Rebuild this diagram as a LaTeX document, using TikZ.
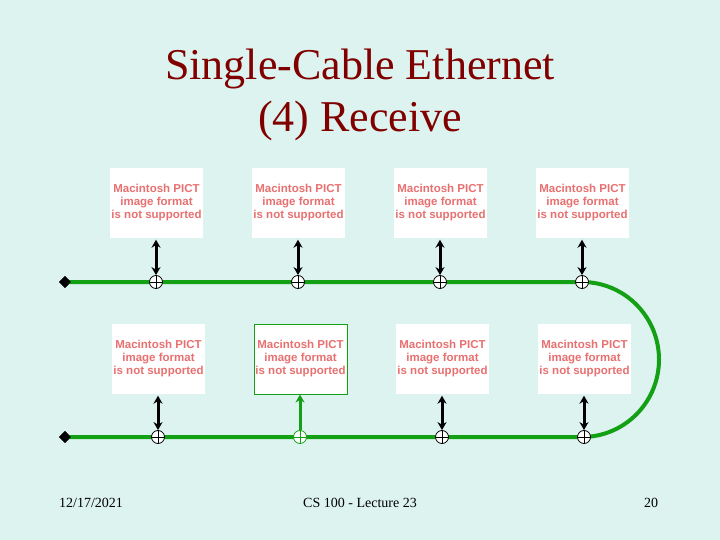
\documentclass[tikz,border=0pt]{standalone}
\usepackage{fontspec}
\setmainfont{Liberation Serif}
\newfontfamily\pictfont{Liberation Sans}
\usetikzlibrary{arrows.meta,shapes.geometric}
\definecolor{bgc}{RGB}{221,243,239}
\definecolor{titlec}{RGB}{128,0,0}
\definecolor{pictc}{RGB}{232,112,112}
\definecolor{cablec}{RGB}{20,160,20}
\tikzset{
  pict/.style={draw=none,fill=white,minimum width=93pt,minimum height=70pt,inner sep=0pt,
    font=\pictfont\bfseries\fontsize{11.5}{13}\selectfont,text=pictc,align=center},
  tap/.style={circle,draw=black,fill=white,line width=0.8pt,minimum size=13pt,inner sep=0pt,
    path picture={\draw[line width=0.8pt] (path picture bounding box.north) -- (path picture bounding box.south)
      (path picture bounding box.west) -- (path picture bounding box.east);}},
  gtap/.style={tap,draw=cablec,path picture={\draw[cablec,line width=0.8pt] (path picture bounding box.north) -- (path picture bounding box.south)
      (path picture bounding box.west) -- (path picture bounding box.east);}},
  term/.style={diamond,fill=black,minimum size=12pt,inner sep=0pt},
  cable/.style={cablec,line width=4pt},
  arr/.style={black,line width=3pt,{Stealth[length=8pt,width=9pt]}-{Stealth[length=8pt,width=9pt]}},
  garr/.style={cablec,line width=3pt,-{Stealth[length=8pt,width=9pt]}},
  foot/.style={font=\fontsize{14}{16}\selectfont,text=black}
}
\begin{document}
\begin{tikzpicture}[x=1pt,y=-1pt]
\fill[bgc] (0,0) rectangle (720,540);
\useasboundingbox (0,0) rectangle (720,540);
\node[text=titlec,font=\fontsize{44}{52}\selectfont,align=center] (title) at (360,95) {Single-Cable Ethernet\\(4) Receive};
% pictures
\node[pict] (t1) at (156.5,203) {Macintosh PICT\\image format\\is not supported};
\node[pict] (t2) at (298.5,203) {Macintosh PICT\\image format\\is not supported};
\node[pict] (t3) at (440.5,203) {Macintosh PICT\\image format\\is not supported};
\node[pict] (t4) at (582.5,203) {Macintosh PICT\\image format\\is not supported};
\node[pict] (b1) at (158.5,359) {Macintosh PICT\\image format\\is not supported};
\node[pict,draw=cablec,line width=1pt] (b2) at (300.5,359) {Macintosh PICT\\image format\\is not supported};
\node[pict] (b3) at (442.5,359) {Macintosh PICT\\image format\\is not supported};
\node[pict] (b4) at (584.5,359) {Macintosh PICT\\image format\\is not supported};
% terminators
\node[term] (d1) at (65,282) {};
\node[term] (d2) at (65,437) {};
\coordinate (c4) at (582,282);
% cable
\draw[cable] (d1.center) -- (c4) arc[start angle=-90,end angle=90,x radius=77,y radius=77.5] -- (d2.center);
\node[term] at (d1) {};
\node[term] at (d2) {};
% taps
\node[tap] (tt1) at (156,282) {};
\node[tap] (tt2) at (298,282) {};
\node[tap] (tt3) at (440,282) {};
\node[tap] (tt4) at (582,282) {};
\node[tap] (bt1) at (158,437) {};
\node[gtap] (bt2) at (300,437) {};
\node[tap] (bt3) at (442,437) {};
\node[tap] (bt4) at (584,437) {};
% arrows
\draw[arr,shorten <=1.5pt] (t1.south -| tt1) -- (tt1.north);
\draw[arr,shorten <=1.5pt] (t2.south -| tt2) -- (tt2.north);
\draw[arr,shorten <=1.5pt] (t3.south -| tt3) -- (tt3.north);
\draw[arr,shorten <=1.5pt] (t4.south -| tt4) -- (tt4.north);
\draw[arr,shorten <=1.5pt] (b1.south -| bt1) -- (bt1.north);
\draw[garr] (bt2.north) -- (b2.south -| bt2);
\draw[arr,shorten <=1.5pt] (b3.south -| bt3) -- (bt3.north);
\draw[arr,shorten <=1.5pt] (b4.south -| bt4) -- (bt4.north);
% footer
\node[foot] (date) at (91,503) {12/17/2021};
\node[foot] (course) at (360,503) {CS 100 - Lecture 23};
\node[foot] (page) at (651,503) {20};
\end{tikzpicture}
\end{document}
